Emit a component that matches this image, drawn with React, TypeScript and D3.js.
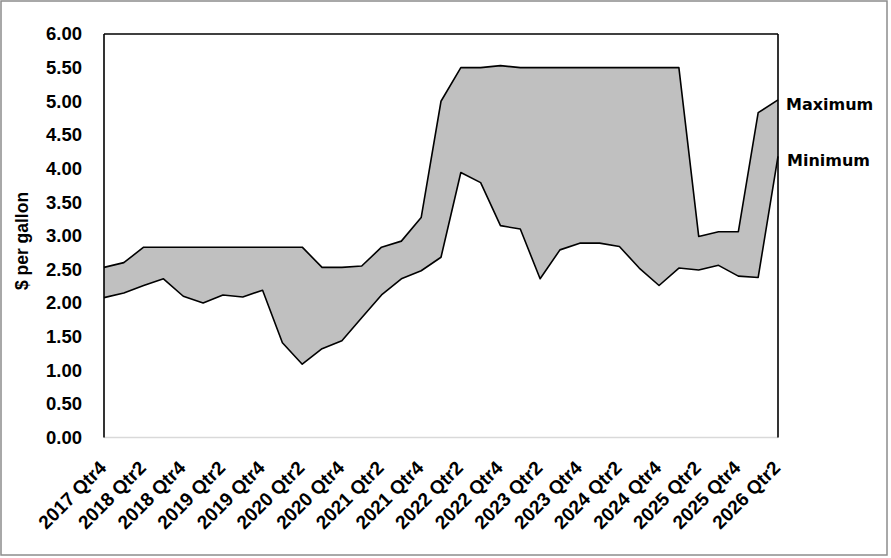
import React from "react";
import * as d3 from "d3";

const quarters = [
  "2017 Qtr4",
  "2018 Qtr1", "2018 Qtr2", "2018 Qtr3", "2018 Qtr4",
  "2019 Qtr1", "2019 Qtr2", "2019 Qtr3", "2019 Qtr4",
  "2020 Qtr1", "2020 Qtr2", "2020 Qtr3", "2020 Qtr4",
  "2021 Qtr1", "2021 Qtr2", "2021 Qtr3", "2021 Qtr4",
  "2022 Qtr1", "2022 Qtr2", "2022 Qtr3", "2022 Qtr4",
  "2023 Qtr1", "2023 Qtr2", "2023 Qtr3", "2023 Qtr4",
  "2024 Qtr1", "2024 Qtr2", "2024 Qtr3", "2024 Qtr4",
  "2025 Qtr1", "2025 Qtr2", "2025 Qtr3", "2025 Qtr4",
  "2026 Qtr1", "2026 Qtr2",
];

const maximum = [
  2.53, 2.6, 2.83, 2.83, 2.83, 2.83, 2.83, 2.83, 2.83, 2.83, 2.83, 2.53, 2.53,
  2.55, 2.83, 2.92, 3.27, 5.0, 5.5, 5.5, 5.53, 5.5, 5.5, 5.5, 5.5, 5.5, 5.5,
  5.5, 5.5, 5.5, 2.99, 3.06, 3.06, 4.83, 5.02,
];

const minimum = [
  2.08, 2.15, 2.26, 2.36, 2.1, 2.0, 2.12, 2.09, 2.19, 1.41, 1.09, 1.32, 1.44,
  1.78, 2.12, 2.36, 2.48, 2.68, 3.94, 3.79, 3.15, 3.1, 2.36, 2.79, 2.89, 2.89,
  2.84, 2.52, 2.26, 2.52, 2.49, 2.56, 2.4, 2.38, 4.18,
];

const tickLabels = quarters.filter((_, i) => i % 2 === 0);
const yTicks = [0, 0.5, 1, 1.5, 2, 2.5, 3, 3.5, 4, 4.5, 5, 5.5, 6];

const W = 891;
const H = 558;
const L = 104;
const R = 778;
const T = 34;
const B = 437.5;

export default function App() {
  const x = d3.scalePoint<string>().domain(quarters).range([L, R]);
  const y = d3.scaleLinear().domain([0, 6]).range([B, T]);
  const idx = d3.range(quarters.length);

  const area = d3
    .area<number>()
    .x((i) => x(quarters[i]) as number)
    .y0((i) => y(minimum[i]))
    .y1((i) => y(maximum[i]));
  const lineMax = d3
    .line<number>()
    .x((i) => x(quarters[i]) as number)
    .y((i) => y(maximum[i]));
  const lineMin = d3
    .line<number>()
    .x((i) => x(quarters[i]) as number)
    .y((i) => y(minimum[i]));

  const last = quarters.length - 1;
  const font = "'Liberation Sans', Arial, sans-serif";

  return (
    <svg
      width={W}
      height={H}
      style={{ position: "absolute", left: 0, top: 0, background: "#fff" }}
    >
      <rect x={1} y={1} width={886} height={554} fill="#fff" stroke="#8c8c8c" strokeWidth={1.5} />
      <line x1={L} x2={R} y1={B} y2={B} stroke="#d9d9d9" strokeWidth={1.5} />
      <path d={area(idx) || ""} fill="#c0c0c0" stroke="none" />
      <path d={lineMax(idx) || ""} fill="none" stroke="#000" strokeWidth={1.6} strokeLinejoin="round" />
      <path d={lineMin(idx) || ""} fill="none" stroke="#000" strokeWidth={1.6} strokeLinejoin="round" />
      <line x1={L} x2={R} y1={T} y2={T} stroke="#000" strokeWidth={1.6} />
      <line x1={L} x2={L} y1={T} y2={B} stroke="#000" strokeWidth={1.6} />
      <line x1={R} x2={R} y1={T} y2={B} stroke="#000" strokeWidth={1.6} />

      {yTicks.map((t) => (
        <text
          key={t}
          x={82}
          y={y(t)}
          dy="0.35em"
          textAnchor="end"
          fontFamily={font}
          fontWeight="bold"
          fontSize={18.5}
          fill="#000"
        >
          {d3.format(".2f")(t)}
        </text>
      ))}

      <text
        transform={`translate(28, 241) rotate(-90)`}
        textAnchor="middle"
        fontFamily={font}
        fontWeight="bold"
        fontSize={17.5}
        fill="#000"
      >
        $ per gallon
      </text>

      {tickLabels.map((q) => (
        <text
          key={q}
          transform={`translate(${(x(q) as number) + 3.5}, 469) rotate(-45)`}
          textAnchor="end"
          fontFamily={font}
          fontWeight="bold"
          fontSize={19}
          fill="#000"
        >
          {q}
        </text>
      ))}

      <text
        x={786}
        y={y(maximum[last]) + 4}
        dy="0.35em"
        fontFamily="'DejaVu Sans', sans-serif"
        fontWeight="bold"
        fontSize={16}
        fill="#000"
      >
        Maximum
      </text>
      <text
        x={787}
        y={y(minimum[last]) + 4}
        dy="0.35em"
        fontFamily="'DejaVu Sans', sans-serif"
        fontWeight="bold"
        fontSize={16}
        fill="#000"
      >
        Minimum
      </text>
    </svg>
  );
}
